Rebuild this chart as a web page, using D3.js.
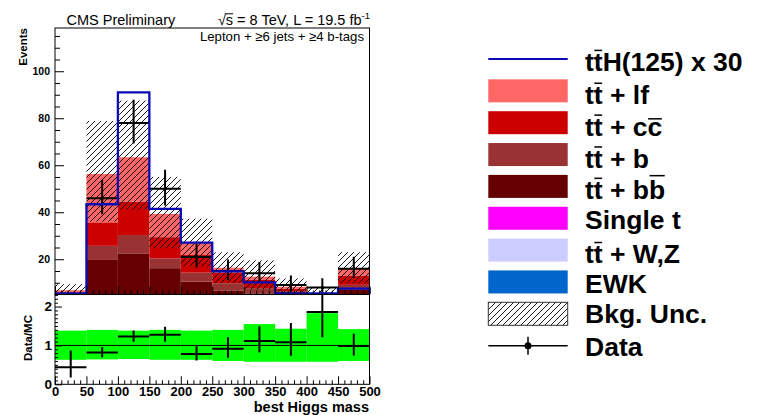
<!DOCTYPE html>
<html><head><meta charset="utf-8">
<script src="https://cdn.jsdelivr.net/npm/d3@7/dist/d3.min.js"></script>
<style>
body{margin:0;background:#fff}
svg{display:block}
text{font-family:"Liberation Sans",Arial,Helvetica,sans-serif}
</style>
</head><body>
<svg id="chart" width="762" height="415"></svg>
<script>
// ---------------- data ----------------
const binEdges = [0,50,100,150,200,250,300,350,400,450,500];
const xTickLabels = ["0","50","100","150","200","250","300","350","400","450","500"];
const ewk       = [0.1,0.2,0.2,0.1,0.1,0.0,0.0,0.0,0.0,0.1];
const ttV       = [0.2,1.0,1.2,0.8,0.5,0.3,0.3,0.2,0.2,0.4];
const singleTop = [0.3,1.5,1.6,1.0,0.7,0.5,0.4,0.3,0.3,0.6];
const ttbb      = [0.6,17.0,19.5,14.3,9.2,5.8,4.8,4.0,1.0,6.1];
const ttb       = [0.8,6.0,7.8,4.2,3.8,3.2,2.2,1.7,0.8,1.9];
const ttcc      = [1.8,10.0,14.2,9.0,7.5,4.5,3.5,1.2,0.9,3.8];
const ttlf      = [3.0,20.6,18.9,9.9,5.2,2.1,1.4,0.9,1.1,3.3];
const ttH30     = [4.3,43.4,91.0,41.4,27.1,14.8,10.2,5.2,4.5,7.5];
const dataVals  = [3,46,78,50,21,15,14,9,8,16];
const dataErrUp = [2.9,7.8,9.9,8.1,5.6,4.9,4.8,4.1,3.9,5.1];
const dataErrDn = [1.8,6.8,8.8,7.1,4.5,3.8,3.7,2.9,2.8,4.0];
const uncUp     = [0.38,0.40,0.38,0.40,0.38,0.40,0.55,0.43,0.83,0.42];
const uncDn     = [0.37,0.36,0.35,0.37,0.37,0.40,0.42,0.42,0.42,0.40];
const yMainTicks = [20,40,60,80,100];
const yRatioTicks = [0,1,2];

const layerKeys   = ["ewk","ttV","singleTop","ttbb","ttb","ttcc","ttlf"];
const layerColors = {ewk:"#0066cc", ttV:"#ccccff", singleTop:"#ff00ff", ttbb:"#660000", ttb:"#993333", ttcc:"#cc0000", ttlf:"#ff6666"};
const series = {ewk, ttV, singleTop, ttbb, ttb, ttcc, ttlf};

const rows = binEdges.slice(0,-1).map((x0,i)=>{
  const r = {x0, x1: binEdges[i+1]};
  layerKeys.forEach(k=> r[k] = series[k][i]);
  r.mc = layerKeys.reduce((s,k)=>s+series[k][i],0);
  r.data = dataVals[i]; r.up = dataErrUp[i]; r.dn = dataErrDn[i];
  r.uUp = uncUp[i]; r.uDn = uncDn[i]; r.tth = ttH30[i];
  return r;
});

// ---------------- layout ----------------
const L = 55, R = 369.5, T = 28, MB = 294.5, RB = 384.3;
const svg = d3.select("#chart");
const x  = d3.scaleLinear().domain([0,500]).range([L,R]);
const y  = d3.scaleLinear().domain([5,118.4]).range([MB,T]);
const yr = d3.scaleLinear().domain([0,2.31]).range([RB,MB]);
const yc = v => y(Math.max(y.domain()[0], Math.min(y.domain()[1], v)));

const defs = svg.append("defs");
defs.append("clipPath").attr("id","clipMain").append("rect").attr("x",L).attr("y",T).attr("width",R-L).attr("height",MB-T);
defs.append("clipPath").attr("id","clipRatio").append("rect").attr("x",L).attr("y",MB).attr("width",R-L).attr("height",RB-MB);
const pat = defs.append("pattern").attr("id","hatch").attr("patternUnits","userSpaceOnUse").attr("width",6).attr("height",6);
pat.append("path").attr("d","M0,6 L6,0 M-1,1 L1,-1 M5,7 L7,5").attr("stroke","#000").attr("stroke-width",0.9);

// ---------------- main panel ----------------
const main = svg.append("g").attr("clip-path","url(#clipMain)");
const stack = d3.stack().keys(layerKeys)(rows);
stack.forEach(layer=>{
  main.append("g").attr("fill",layerColors[layer.key]).selectAll("rect").data(layer).join("rect")
    .attr("x",d=>x(d.data.x0)).attr("width",d=>x(d.data.x1)-x(d.data.x0))
    .attr("y",d=>yc(d[1])).attr("height",d=>Math.max(0,yc(d[0])-yc(d[1])));
});
// uncertainty hatch
main.append("g").selectAll("rect").data(rows).join("rect")
  .attr("x",d=>x(d.x0)).attr("width",d=>x(d.x1)-x(d.x0))
  .attr("y",d=>yc(d.mc*(1+d.uUp))).attr("height",d=>Math.max(0,yc(d.mc*(1-d.uDn))-yc(d.mc*(1+d.uUp))))
  .attr("fill","url(#hatch)");
// ttH line
const pts = [[0,y.domain()[0]]];
rows.forEach(d=>{pts.push([d.x0,d.tth]);pts.push([d.x1,d.tth]);});
pts.push([500,y.domain()[0]]);
svg.append("path").attr("d",d3.line().x(p=>x(p[0])).y(p=>Math.min(MB-1,yc(p[1])))(pts))
  .attr("fill","none").attr("stroke","#0a0ab4").attr("stroke-width",2.3);
// data
const dataG = main.append("g").attr("stroke","#000").attr("stroke-width",2);
rows.forEach(d=>{
  const xm = (x(d.x0)+x(d.x1))/2;
  dataG.append("line").attr("x1",x(d.x0)).attr("x2",x(d.x1)).attr("y1",y(d.data)).attr("y2",y(d.data));
  dataG.append("line").attr("x1",xm).attr("x2",xm).attr("y1",y(d.data-d.dn)).attr("y2",y(d.data+d.up));
  main.append("circle").attr("cx",xm).attr("cy",y(d.data)).attr("r",1.6).attr("fill","#000");
});

// ---------------- ratio panel ----------------
const ratio = svg.append("g").attr("clip-path","url(#clipRatio)");
ratio.append("g").attr("fill","#00ff00").selectAll("rect").data(rows).join("rect")
  .attr("x",d=>x(d.x0)).attr("width",d=>x(d.x1)-x(d.x0))
  .attr("y",d=>yr(1+d.uUp)).attr("height",d=>yr(1-d.uDn)-yr(1+d.uUp));
ratio.append("line").attr("x1",L).attr("x2",R).attr("y1",yr(1)).attr("y2",yr(1)).attr("stroke","#000").attr("stroke-width",1);
const rG = ratio.append("g").attr("stroke","#000").attr("stroke-width",2);
rows.forEach(d=>{
  const xm = (x(d.x0)+x(d.x1))/2, r = d.data/d.mc;
  rG.append("line").attr("x1",x(d.x0)).attr("x2",x(d.x1)).attr("y1",yr(r)).attr("y2",yr(r));
  rG.append("line").attr("x1",xm).attr("x2",xm).attr("y1",yr(r-d.dn/d.mc)).attr("y2",yr(r+d.up/d.mc));
});

// ---------------- axes ----------------
function styleAxis(g, fs, noLabels){
  g.select(".domain").remove();
  g.selectAll(".tick line").attr("stroke","#000");
  if(noLabels){ g.selectAll(".tick text").remove(); return; }
  g.selectAll("text").attr("font-size",fs).attr("font-weight","bold").attr("fill","#000")
   .attr("font-family",'"Liberation Sans",Arial,sans-serif');
}
// main y
svg.append("g").attr("transform",`translate(${L},0)`)
  .call(d3.axisLeft(y).tickValues(yMainTicks).tickSize(-9).tickPadding(5).tickFormat(d3.format("d")))
  .call(g=>styleAxis(g,10.5));
svg.append("g").attr("transform",`translate(${L},0)`)
  .call(d3.axisLeft(y).tickValues(d3.range(10,118,5).filter(v=>v%20!==0)).tickSize(-5))
  .call(g=>styleAxis(g,10,true));
// main x ticks (no labels)
svg.append("g").attr("transform",`translate(0,${MB})`)
  .call(d3.axisBottom(x).tickValues(binEdges).tickSize(-8))
  .call(g=>styleAxis(g,10,true));
svg.append("g").attr("transform",`translate(0,${MB})`)
  .call(d3.axisBottom(x).tickValues(d3.range(0,501,10).filter(v=>v%50!==0)).tickSize(-4))
  .call(g=>styleAxis(g,10,true));
// ratio x
svg.append("g").attr("transform",`translate(0,${RB})`)
  .call(d3.axisBottom(x).tickValues(binEdges).tickSize(-8).tickPadding(2.5).tickFormat((d,i)=>xTickLabels[i]))
  .call(g=>styleAxis(g,13));
svg.append("g").attr("transform",`translate(0,${RB})`)
  .call(d3.axisBottom(x).tickValues(d3.range(0,501,10).filter(v=>v%50!==0)).tickSize(-4))
  .call(g=>styleAxis(g,10,true));
// ratio y
svg.append("g").attr("transform",`translate(${L},0)`)
  .call(d3.axisLeft(yr).tickValues(yRatioTicks).tickSize(-7).tickPadding(3).tickFormat(d3.format("d")))
  .call(g=>styleAxis(g,13.5));
svg.append("g").attr("transform",`translate(${L},0)`)
  .call(d3.axisLeft(yr).tickValues(d3.range(0,2.31,0.1).filter(v=>Math.abs(v-Math.round(v))>0.01)).tickSize(-3))
  .call(g=>styleAxis(g,10,true));

// frames
svg.append("rect").attr("x",L).attr("y",T).attr("width",R-L).attr("height",MB-T).attr("fill","none").attr("stroke","#000").attr("stroke-width",1);
svg.append("rect").attr("x",L).attr("y",MB).attr("width",R-L).attr("height",RB-MB).attr("fill","none").attr("stroke","#000").attr("stroke-width",1);

// ---------------- texts ----------------
svg.append("text").attr("x",66.5).attr("y",25).attr("font-size",14.5).text("CMS Preliminary");
const lum = svg.append("text").attr("x",370).attr("y",25).attr("font-size",14.5).attr("text-anchor","end");
lum.append("tspan").text("√s = 8 TeV, L = 19.5 fb");
lum.append("tspan").attr("font-size",9.5).attr("dy",-6).text("-1");
{
  const n = lum.node();
  const s0 = n.getStartPositionOfChar(1).x, s1 = n.getEndPositionOfChar(1).x;
  svg.append("line").attr("x1",s0-1).attr("x2",s1).attr("y1",13.8).attr("y2",13.8).attr("stroke","#000").attr("stroke-width",1);
}
svg.append("text").attr("x",364).attr("y",40.5).attr("font-size",13.2).attr("text-anchor","end").text("Lepton + ≥6 jets + ≥4 b-tags");
svg.append("text").attr("transform","translate(27,28) rotate(-90)").attr("text-anchor","end")
  .attr("font-size",11.5).attr("font-weight","bold").text("Events");
svg.append("text").attr("transform","translate(31.5,338) rotate(-90)").attr("text-anchor","middle")
  .attr("font-size",11.5).attr("font-weight","bold").text("Data/MC");
svg.append("text").attr("x",369).attr("y",411.6).attr("text-anchor","end")
  .attr("font-size",14.5).attr("font-weight","bold").text("best Higgs mass");

// ---------------- legend ----------------
const OL = true;
const legendItems = [
  {type:"line", color:"#0a0ab4", parts:[["t"],["t",OL],["H(125) x 30"]], dy:12},
  {type:"box", color:layerColors.ttlf, parts:[["t"],["t",OL],[" + lf"]], dy:13},
  {type:"box", color:layerColors.ttcc, parts:[["t"],["t",OL],[" + c"],["c",OL]], dy:13},
  {type:"box", color:layerColors.ttb,  parts:[["t"],["t",OL],[" + b"]], dy:13},
  {type:"box", color:layerColors.ttbb, parts:[["t"],["t",OL],[" + b"],["b",OL]], dy:12.5},
  {type:"box", color:layerColors.singleTop, parts:[["Single t"]], dy:10.5},
  {type:"box", color:layerColors.ttV,  parts:[["t"],["t",OL],[" + W,Z"]], dy:13},
  {type:"box", color:layerColors.ewk,  parts:[["EWK"]], dy:11},
  {type:"hatch", parts:[["Bkg. Unc."]], dy:9.2},
  {type:"data", parts:[["Data"]], dy:10.5}
];
const lx0 = 488.3, lx1 = 567.7, ltx = 585, ly0 = 59, lstep = 31.85, lfs = 26.5;
const barH = {t:0.72, c:0.58, b:0.82};
legendItems.forEach((it,i)=>{
  const cy = ly0 + i*lstep;
  const g = svg.append("g");
  if(it.type==="line"){
    g.append("line").attr("x1",lx0).attr("x2",lx1).attr("y1",cy).attr("y2",cy).attr("stroke",it.color).attr("stroke-width",2);
  } else if(it.type==="box"){
    g.append("rect").attr("x",lx0).attr("y",cy-11.5).attr("width",lx1-lx0).attr("height",23).attr("fill",it.color);
  } else if(it.type==="hatch"){
    g.append("rect").attr("x",lx0).attr("y",cy-11.5).attr("width",lx1-lx0).attr("height",23).attr("fill","url(#hatch)").attr("stroke","#333").attr("stroke-width",1);
  } else {
    g.append("line").attr("x1",lx0).attr("x2",lx1).attr("y1",cy).attr("y2",cy).attr("stroke","#000").attr("stroke-width",1.5);
    g.append("line").attr("x1",(lx0+lx1)/2).attr("x2",(lx0+lx1)/2).attr("y1",cy-9).attr("y2",cy+9).attr("stroke","#000").attr("stroke-width",1.5);
    g.append("circle").attr("cx",(lx0+lx1)/2).attr("cy",cy).attr("r",3.5).attr("fill","#000");
  }
  const base = cy + it.dy;
  const t = g.append("text").attr("x",ltx).attr("y",base).attr("font-size",lfs).attr("font-weight","bold").attr("fill","#000");
  const bars = [];
  let idx = 0;
  it.parts.forEach(p=>{
    t.append("tspan").text(p[0]);
    if(p[1]) bars.push({i:idx, ch:p[0]});
    idx += p[0].length;
  });
  const n = t.node();
  bars.forEach(b=>{
    const s0 = n.getStartPositionOfChar(b.i).x, s1 = n.getEndPositionOfChar(b.i).x;
    const yy = base - (barH[b.ch]||0.7)*lfs - 1.5;
    g.append("line").attr("x1",s0+0.5).attr("x2",s1-0.5).attr("y1",yy).attr("y2",yy).attr("stroke","#000").attr("stroke-width",1.5);
  });
});
</script>
</body></html>
